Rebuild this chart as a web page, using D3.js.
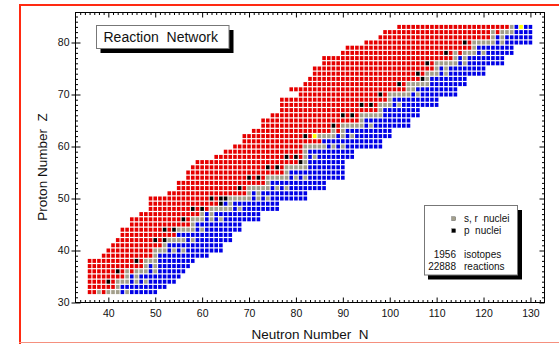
<!DOCTYPE html>
<html><head><meta charset="utf-8">
<script src="https://cdn.jsdelivr.net/npm/d3@7"></script>
<style>
body{margin:0;background:#fff;}
svg{display:block;font-family:"Liberation Sans",Arial,Helvetica,sans-serif;}
</style></head><body>
<svg id="c" width="559" height="344"></svg>
<script>
// ---------- data ----------
const protonZ = [32,33,34,35,36,37,38,39,40,41,42,43,44,45,46,47,48,49,50,51,52,53,54,55,56,57,58,59,60,61,62,63,64,65,66,67,68,69,70,71,72,73,74,75,76,77,78,79,80,81,82,83];
const firstN  = [36,36,36,36,36,36,36,39,40,41,42,43,43,45,45,47,49,49,49,53,55,55,57,57,58,59,63,65,67,69,69,71,73,73,75,77,77,77,81,79,82,83,84,84,86,86,90,91,95,98,99,102];
const lastN   = [50,52,54,55,56,57,58,61,64,64,66,66,68,68,72,72,76,76,82,82,86,86,90,90,90,90,92,92,98,98,100,100,104,104,106,106,110,110,114,114,116,116,120,120,124,124,126,126,130,130,130,130];
// s,r nuclei (stable, grey)
const srNuclei = [
 [38,40,41,42,44],[42],[42,43,44,46,48],[44,46],[44,46,47,48,50],[48,50],[48,49,50],[50],
 [50,51,52,54,56],[52],[53,54,55,56,58],[],[55,56,57,58,60],[58],[58,59,60,62,64],[60,62],
 [62,63,64,65,66,68],[66],[66,67,68,69,70,72,74],[70,72],[70,71,72,73,74,76,78],[74],
 [74,75,76,77,78,80,82],[78],[78,79,80,81,82],[82],[82,84],[82],[82,83,84,85,86,88,90],[],
 [85,86,87,88,90,92],[88,90],[90,91,92,93,94,96],[94],[94,95,96,97,98],[98],[98,99,100,102],[100],
 [100,101,102,103,104,106],[104,105],[104,105,106,107,108],[108],[108,109,110,112],[110,112],
 [110,111,112,113,114,116],[114,116],[114,116,117,118,120],[118],[118,119,120,121,122,124],[122,124],
 [122,124,125,126],[126]
];
// p nuclei (black)
const pNuclei = [
 [],[],[40],[],[42],[],[46],[],[],[],[50,52],[],[52,54],[],[56],[],[58,60],[64],[62,64,65],[],[68],[],
 [70,72],[],[74,76],[81],[78,80],[],[],[],[82],[],[88],[],[90,92],[],[94,96],[],[98],[],[102],[107],
 [106],[],[108],[],[112],[],[116],[],[],[]
];
// unstable proton-rich cells lying inside the stable band (red)
const redInside = [
 [39],[],[41],[],[43,45],[],[47],[],[],[],[51],[],[53],[],[57],[],[59,61],[],[63],[],[69],[],
 [71,73],[],[75,77],[],[79,81],[],[],[],[83],[89],[89],[],[91,93],[],[95,97],[],[99],[],[103],[],
 [107],[],[109],[],[113,115],[],[117],[],[123],[]
];
// rows without stable isotopes: last red N
const redLimitZ = [43,61];
const redLimitN = [54,85];
// long-lived highlighted (yellow)
const yellowZ = [62,83];
const yellowN = [84,128];

const xTickValues = [40,50,60,70,80,90,100,110,120,130];
const yTickValues = [30,40,50,60,70,80];

// ---------- drawing ----------
const svg = d3.select('#c');
const COL = {R:'#e60000', B:'#0000e6', G:'#a39f8b', P:'#000000', Y:'#ffff00'};

const x = d3.scaleLinear().domain([33,133]).range([75.5,544.5]);
const y = d3.scaleLinear().domain([30,85.77]).range([302.5,12.5]);

// red outer frame
svg.append('line').attr('x1',19).attr('x2',559).attr('y1',5).attr('y2',5).attr('stroke','#ff2a12').attr('stroke-width',2);
svg.append('line').attr('x1',20).attr('x2',20).attr('y1',4).attr('y2',344).attr('stroke','#ff2a12').attr('stroke-width',2);
svg.append('line').attr('x1',19).attr('x2',559).attr('y1',342.5).attr('y2',342.5).attr('stroke','#f5907e').attr('stroke-width',1);

// cells
const cells = [];
protonZ.forEach((z,i)=>{
  const st = srNuclei[i], pp = pNuclei[i], ri = redInside[i];
  const all = st.concat(pp);
  let low = all.length ? d3.min(all) : null;
  const li = redLimitZ.indexOf(z);
  if (li >= 0) low = redLimitN[li] + 1;
  for (let n = firstN[i]; n <= lastN[i]; n++) {
    let c;
    const yi = yellowZ.findIndex((yz,k)=>yz===z && yellowN[k]===n);
    if (yi >= 0) c = 'Y';
    else if (pp.includes(n)) c = 'P';
    else if (st.includes(n)) c = 'G';
    else if (n < low || ri.includes(n)) c = 'R';
    else c = 'B';
    cells.push({z, n, c});
  }
});
const cw = 3.6, ch = 4.0;
svg.append('g').selectAll('rect').data(cells).join('rect')
  .attr('x', d => x(d.n) - cw/2)
  .attr('y', d => y(d.z) - ch/2)
  .attr('width', cw).attr('height', ch)
  .attr('fill', d => COL[d.c]);

// axes
const minorX = d3.range(34,133).filter(v => v % 10 !== 0);
const minorY = d3.range(31,86).filter(v => v % 10 !== 0);
function clean(g){ g.select('.domain').remove(); g.selectAll('line').attr('stroke','#000'); }

svg.append('g').attr('transform','translate(0,302.5)')
  .call(d3.axisBottom(x).tickValues(xTickValues).tickSize(-5).tickPadding(7).tickFormat(d3.format('d')))
  .call(clean).call(g=>g.selectAll('text').attr('font-size',10.5).attr('font-family','Liberation Sans, Arial').attr('fill','#111'));
svg.append('g').attr('transform','translate(0,302.5)')
  .call(d3.axisBottom(x).tickValues(minorX).tickSize(-2.5).tickFormat('')).call(clean);
svg.append('g').attr('transform','translate(0,12.5)')
  .call(d3.axisTop(x).tickValues(xTickValues).tickSize(-5).tickFormat('')).call(clean);
svg.append('g').attr('transform','translate(0,12.5)')
  .call(d3.axisTop(x).tickValues(minorX).tickSize(-2.5).tickFormat('')).call(clean);

svg.append('g').attr('transform','translate(75.5,0)')
  .call(d3.axisLeft(y).tickValues(yTickValues).tickSize(4).tickPadding(2).tickFormat(d3.format('d')))
  .call(clean).call(g=>g.selectAll('text').attr('font-size',10.5).attr('font-family','Liberation Sans, Arial').attr('fill','#111'));
svg.append('g').attr('transform','translate(75.5,0)')
  .call(d3.axisLeft(y).tickValues(yTickValues).tickSize(-5).tickFormat('')).call(clean);
svg.append('g').attr('transform','translate(75.5,0)')
  .call(d3.axisLeft(y).tickValues(minorY).tickSize(-2.5).tickFormat('')).call(clean);
svg.append('g').attr('transform','translate(544.5,0)')
  .call(d3.axisRight(y).tickValues(yTickValues).tickSize(-5).tickFormat('')).call(clean);
svg.append('g').attr('transform','translate(544.5,0)')
  .call(d3.axisRight(y).tickValues(minorY).tickSize(-2.5).tickFormat('')).call(clean);

// plot frame
svg.append('rect').attr('x',75.5).attr('y',12.5).attr('width',469).attr('height',290)
  .attr('fill','none').attr('stroke','#000').attr('stroke-width',1);

// axis titles
svg.append('text').attr('x',310).attr('y',339).attr('text-anchor','middle')
  .attr('font-size',13.5).attr('fill','#111').style('white-space','pre').text('Neutron Number  N');
svg.append('text').attr('transform','translate(46.5,167) rotate(-90)').attr('text-anchor','middle')
  .attr('font-size',13.5).attr('fill','#111').style('white-space','pre').text('Proton Number  Z');

// title box
svg.append('rect').attr('x',100.5).attr('y',30).attr('width',133).attr('height',23).attr('fill','#000');
svg.append('rect').attr('x',96.5).attr('y',25.5).attr('width',132.5).attr('height',23)
  .attr('fill','#fff').attr('stroke','#777').attr('stroke-width',1);
svg.append('text').attr('x',103.5).attr('y',42.3).attr('font-size',14).attr('fill','#111')
  .style('white-space','pre').text('Reaction  Network');

// legend box
svg.append('rect').attr('x',428).attr('y',210).attr('width',94).attr('height',69.5).attr('fill','#000');
svg.append('rect').attr('x',424.5).attr('y',205.5).attr('width',93).attr('height',69.5)
  .attr('fill','#fff').attr('stroke','#777').attr('stroke-width',1);
const legItems = [{c:'G', t:'s, r  nuclei', yy:218.7},{c:'P', t:'p  nuclei', yy:230.7}];
legItems.forEach(d=>{
  svg.append('rect').attr('x',451.8).attr('y',d.yy-1.9).attr('width',3.8).attr('height',3.8)
    .attr('fill',COL[d.c]).attr('stroke','#444').attr('stroke-width',0.4);
  svg.append('text').attr('x',464).attr('y',d.yy+3.6).attr('font-size',10).attr('fill','#111')
    .style('white-space','pre').text(d.t);
});
const countVals = ['1956','22888'];
const countLabels = ['isotopes','reactions'];
countVals.forEach((v,k)=>{
  const yy = 254.7 + k*12;
  svg.append('text').attr('x',456).attr('y',yy+3.6).attr('text-anchor','end').attr('font-size',10).attr('fill','#111').text(v);
  svg.append('text').attr('x',464).attr('y',yy+3.6).attr('font-size',10).attr('fill','#111').text(countLabels[k]);
});
</script>
</body></html>
